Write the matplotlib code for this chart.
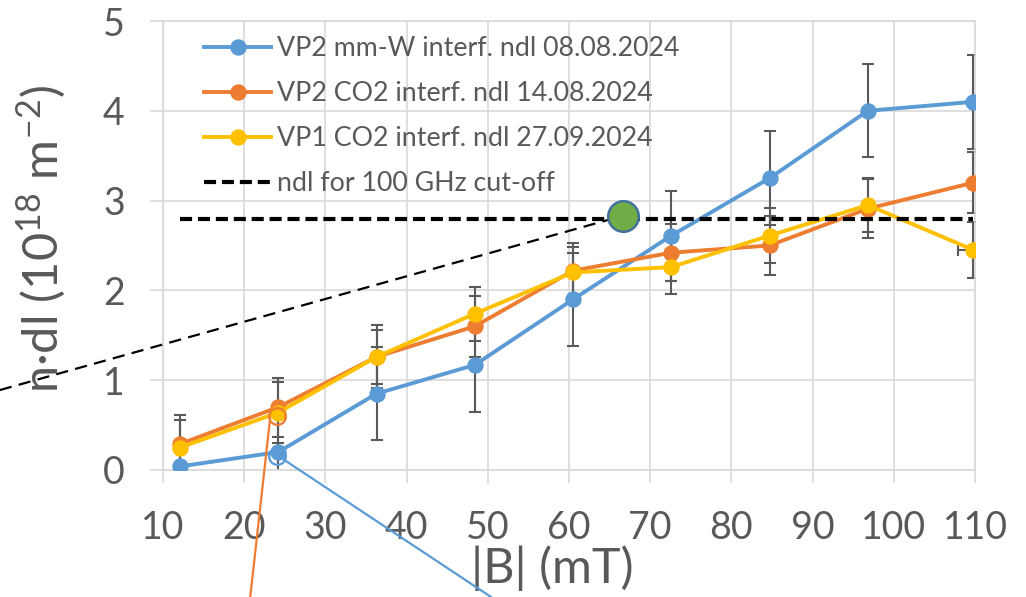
import matplotlib
matplotlib.use("Agg")
import matplotlib.pyplot as plt

plt.rcParams['font.family'] = ['Lato', 'DejaVu Sans']
plt.rcParams['mathtext.fontset'] = 'custom'
plt.rcParams['mathtext.rm'] = 'Lato'
plt.rcParams['mathtext.it'] = 'Lato:italic'
plt.rcParams['mathtext.bf'] = 'Lato:bold'

# Magnetic field (mT)
b_field = [12.1, 24.2, 36.3, 48.4, 60.5, 72.6, 84.7, 96.8, 109.8]

# Line-integrated density (1e18 m^-2) and uncertainties
ndl_mmw_0808 = [0.04, 0.20, 0.85, 1.17, 1.90, 2.61, 3.25, 4.00, 4.10]
err_mmw_0808 = [0.52, 0.52, 0.52, 0.52, 0.52, 0.50, 0.52, 0.52, 0.52]

ndl_co2_1408 = [0.29, 0.70, 1.26, 1.60, 2.22, 2.42, 2.50, 2.91, 3.20]
err_co2_1408 = [0.32, 0.33, 0.35, 0.34, 0.31, 0.32, 0.33, 0.33, 0.34]

ndl_co2_2709 = [0.25, 0.64, 1.26, 1.74, 2.20, 2.26, 2.61, 2.95, 2.45]
err_co2_2709 = [0.31, 0.34, 0.30, 0.30, 0.28, 0.30, 0.31, 0.30, 0.31]
xerr_co2_2709 = [0, 0, 0, 0, 0, 0, 0, 0, 1.85]

# Cut-off density for 100 GHz
cutoff_ndl = 2.8
cutoff_range = [12.1, 109.8]

# Crossing marker and guide line towards it
cross_point = (66.6, 2.83)
guide_start = (-10.1, 0.89)

# Highlighted points and their pointer lines
ring_orange = (24.1, 0.60)
ring_blue = (24.1, 0.16)
pointer_orange = [(23.2, 0.58), (20.7, -1.45)]
pointer_blue = [(24.8, 0.12), (51.0, -1.45)]

labels = ["VP2 mm-W interf. ndl 08.08.2024",
          "VP2 CO2 interf. ndl 14.08.2024",
          "VP1 CO2 interf. ndl 27.09.2024",
          "ndl for 100 GHz cut-off"]

x_ticks = [10, 20, 30, 40, 50, 60, 70, 80, 90, 100, 110]
y_ticks = [0, 1, 2, 3, 4, 5]

BLUE = '#5B9BD5'
ORANGE = '#ED7D31'
YELLOW = '#FFC000'
GREEN = '#70AD47'
GRID = '#D9D9D9'
TEXT = '#595959'
ERR = '#5A5A5A'

fig = plt.figure(figsize=(10.26, 5.97), dpi=100)
ax = fig.add_axes([163 / 1026, 127 / 597, 812 / 1026, 449 / 597])

ax.set_xlim(10, 110)
ax.set_ylim(0, 5)
ax.set_xticks(x_ticks)
ax.set_yticks(y_ticks)
ax.grid(True, color=GRID, linewidth=1.2, zorder=0)
ax.set_axisbelow(True)
for s in ax.spines.values():
    s.set_color(GRID)
    s.set_linewidth(1.2)
ax.tick_params(axis='both', direction='out', length=9.5, width=1.2,
               color=GRID, labelcolor=TEXT, labelsize=27)
ax.tick_params(axis='y', pad=18)
ax.tick_params(axis='x', pad=19)

err_kw = dict(fmt='none', ecolor=ERR, elinewidth=1.5, capsize=4.3,
              capthick=1.5, zorder=2)
ax.errorbar(b_field, ndl_mmw_0808, yerr=err_mmw_0808, **err_kw)
ax.errorbar(b_field, ndl_co2_1408, yerr=err_co2_1408, **err_kw)
ax.errorbar(b_field, ndl_co2_2709, yerr=err_co2_2709, xerr=xerr_co2_2709, **err_kw)

line_kw = dict(linewidth=2.8, marker='o', markersize=10.8, zorder=3)
h1, = ax.plot(b_field, ndl_mmw_0808, color=BLUE, label=labels[0], **line_kw)
h2, = ax.plot(b_field, ndl_co2_1408, color=ORANGE, label=labels[1], **line_kw)
h3, = ax.plot(b_field, ndl_co2_2709, color=YELLOW, label=labels[2], **line_kw)
h4, = ax.plot(cutoff_range, [cutoff_ndl, cutoff_ndl], color='black',
              linewidth=3, dashes=(2.9, 1.4), label=labels[3], zorder=4)

# Guide line to the crossing point
ax.plot([guide_start[0], cross_point[0]], [guide_start[1], cross_point[1]],
        color='black', linewidth=1.6, dashes=(5.5, 3.3), clip_on=False, zorder=4)
ax.plot([cross_point[0]], [cross_point[1]], marker='o', markersize=22,
        markerfacecolor=GREEN, markeredgecolor='#41719C', markeredgewidth=1.8,
        linestyle='none', zorder=6)

# Pointer lines and rings
ax.plot(*zip(*pointer_orange), color=ORANGE, linewidth=1.6, clip_on=False, zorder=5)
ax.plot(*zip(*pointer_blue), color=BLUE, linewidth=1.6, clip_on=False, zorder=5)
ax.plot([ring_orange[0]], [ring_orange[1]], marker='o', markersize=12,
        markerfacecolor='none', markeredgecolor=ORANGE, markeredgewidth=1.7,
        linestyle='none', zorder=5)
ax.plot([ring_blue[0]], [ring_blue[1]], marker='o', markersize=12,
        markerfacecolor='none', markeredgecolor=BLUE, markeredgewidth=1.7,
        linestyle='none', zorder=5)

ax.set_xlabel('|B| (mT)', fontsize=35, color=TEXT)
ax.xaxis.set_label_coords(0.48, -0.168)
ax.set_ylabel(r'n·dl (10$^{18}$ m$^{-2}$)', fontsize=35, color=TEXT)
ax.yaxis.set_label_coords(-0.117, 0.515)

leg = ax.legend(handles=[h1, h2, h3, h4], loc='upper left',
                bbox_to_anchor=(204 / 1026, 1 - 36 / 597),
                bbox_transform=fig.transFigure, frameon=False,
                fontsize=19.3, handlelength=2.5, handletextpad=0.22,
                labelspacing=0.75, borderpad=0, borderaxespad=0)
for t in leg.get_texts():
    t.set_color(TEXT)

fig.savefig('out.png', dpi=100)
